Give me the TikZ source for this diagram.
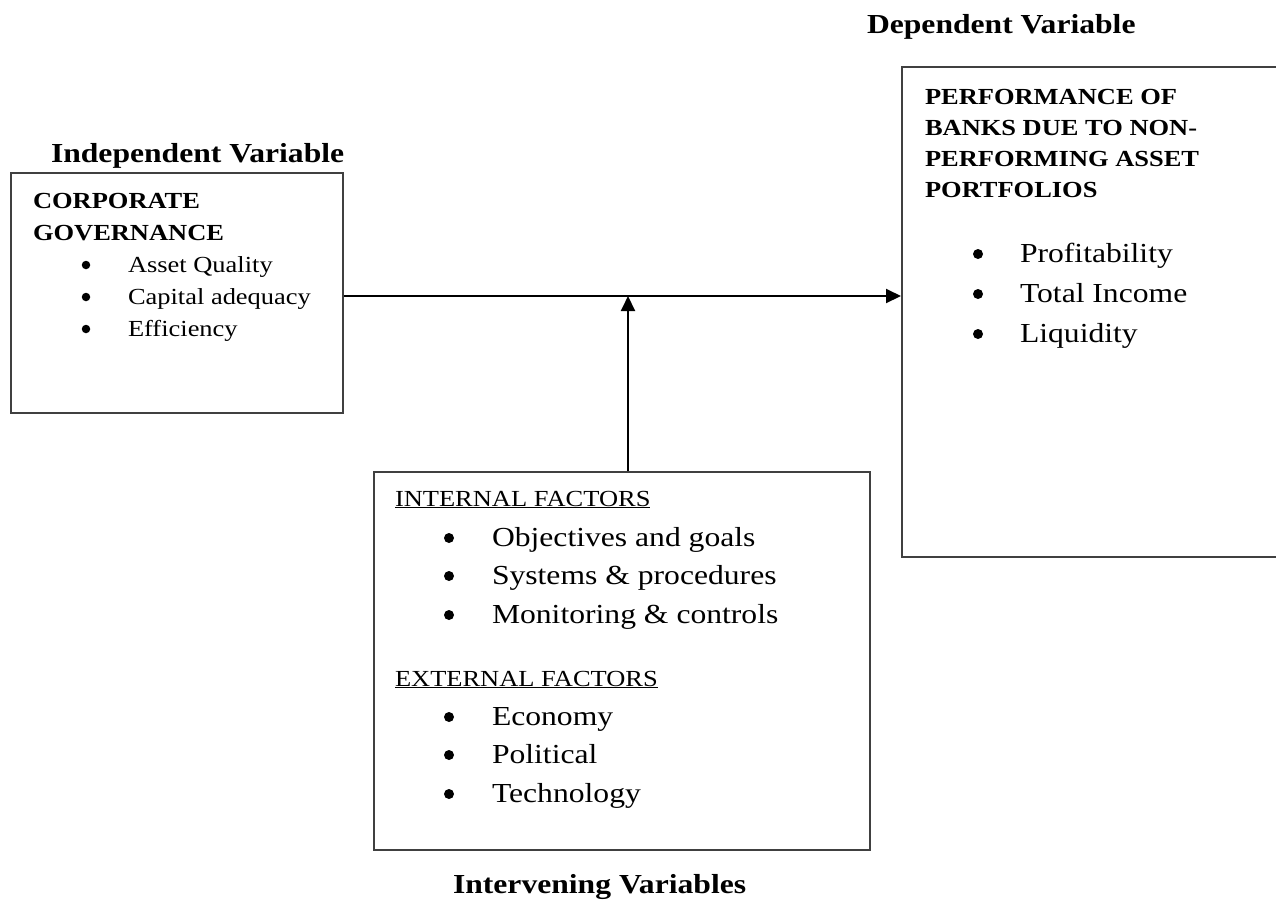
\documentclass[tikz,border=0pt]{standalone}
\usepackage{fontspec}
\setmainfont{Liberation Serif}[FakeStretch=1.15]
\usetikzlibrary{arrows.meta}
\tikzset{
  box/.style={draw=black!75, line width=1.8pt, rectangle, inner sep=0pt, anchor=north west},
  txt/.style={anchor=base west, inner sep=0pt, outer sep=0pt},
  big/.style={font=\fontsize{27.5}{33}\selectfont},
  small/.style={font=\fontsize{23}{28}\selectfont},
  bigb/.style={font=\fontsize{27.5}{33}\selectfont\bfseries},
  smallb/.style={font=\fontsize{23}{28}\selectfont\bfseries},
  bul/.style={circle, fill=black, draw=none, inner sep=0pt, minimum size=#1},
  arr/.style={line width=2pt, -{Triangle[length=15pt,width=14pt]}},
}
\begin{document}
\begin{tikzpicture}[x=1pt,y=-1pt]
\useasboundingbox (0,0) rectangle (1276,906);
% independent variable
\node[box, minimum width=332pt, minimum height=240pt] (iv) at (10,172) {};
\node[txt,bigb] (ivlab) at (51,162) {Independent Variable};
\node[txt,smallb] (cg1) at (33,208) {CORPORATE};
\node[txt,smallb] (cg2) at (33,240) {GOVERNANCE};
\node[bul=8.5pt] (ib1) at (86,265) {};
\node[txt,small] (it1) at (128,272) {Asset Quality};
\node[bul=8.5pt] (ib2) at (86,297) {};
\node[txt,small] (it2) at (128,304) {Capital adequacy};
\node[bul=8.5pt] (ib3) at (86,329) {};
\node[txt,small] (it3) at (128,336) {Efficiency};
% dependent variable
\node[box, minimum width=400pt, minimum height=490pt] (dv) at (901,66) {};
\node[txt,bigb] (dvlab) at (867,33) {Dependent Variable};
\node[txt,smallb] (p1) at (925,104) {PERFORMANCE OF};
\node[txt,smallb] (p2) at (925,135) {BANKS DUE TO NON-};
\node[txt,smallb] (p3) at (925,166) {PERFORMING ASSET};
\node[txt,smallb] (p4) at (925,197) {PORTFOLIOS};
\node[bul=10pt] (db1) at (978,254) {};
\node[txt,big] (dt1) at (1020,262) {Profitability};
\node[bul=10pt] (db2) at (978,294) {};
\node[txt,big] (dt2) at (1020,302) {Total Income};
\node[bul=10pt] (db3) at (978,334) {};
\node[txt,big] (dt3) at (1020,342) {Liquidity};
% intervening variables
\node[box, minimum width=496pt, minimum height=378pt] (itv) at (373,471) {};
\node[txt,small] (inh) at (395,506) {\underline{INTERNAL FACTORS}};
\node[bul=10pt] (nb1) at (449,538) {};
\node[txt,big] (nt1) at (492,546) {Objectives and goals};
\node[bul=10pt] (nb2) at (449,576) {};
\node[txt,big] (nt2) at (492,584) {Systems \& procedures};
\node[bul=10pt] (nb3) at (449,615) {};
\node[txt,big] (nt3) at (492,623) {Monitoring \& controls};
\node[txt,small] (exh) at (395,686) {\underline{EXTERNAL FACTORS}};
\node[bul=10pt] (eb1) at (449,717) {};
\node[txt,big] (et1) at (492,725) {Economy};
\node[bul=10pt] (eb2) at (449,755) {};
\node[txt,big] (et2) at (492,763) {Political};
\node[bul=10pt] (eb3) at (449,794) {};
\node[txt,big] (et3) at (492,802) {Technology};
\node[txt,bigb] (itvlab) at (453,893) {Intervening Variables};
% connectors
\coordinate (mid) at (628,296);
\draw[arr] (iv.east |- mid) -- (dv.west |- mid);
\draw[arr] (itv.north -| mid) -- (mid);
\end{tikzpicture}
\end{document}
